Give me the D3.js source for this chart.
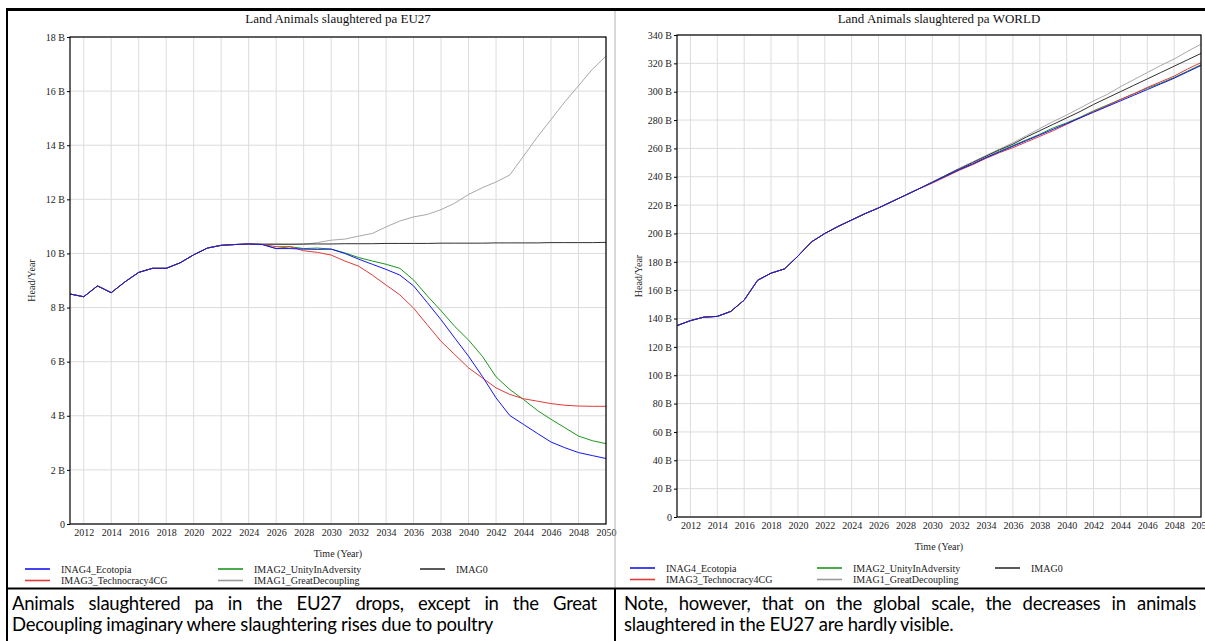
<!DOCTYPE html>
<html><head><meta charset="utf-8">
<script src="https://cdn.jsdelivr.net/npm/d3@7"></script>
<style>
body{margin:0;background:#fff;}
#wrap{position:relative;width:1205px;height:641px;overflow:hidden;background:#fff;}
svg{position:absolute;left:0;top:0;}
.cap{position:absolute;font-family:Lato,"Noto Sans",sans-serif;font-size:18.5px;line-height:21px;color:#000;white-space:nowrap;letter-spacing:-0.25px;}
.j{text-align:justify;text-align-last:justify;white-space:normal;}
</style></head>
<body><div id="wrap"></div>
<script>
// ---------- DATA ----------
const years = [2011,2012,2013,2014,2015,2016,2017,2018,2019,2020,2021,2022,2023,2024,2025,2026,2027,2028,2029,2030,
               2031,2032,2033,2034,2035,2036,2037,2038,2039,2040,2041,2042,2043,2044,2045,2046,2047,2048,2049,2050];
const xTickYears = [2012,2014,2016,2018,2020,2022,2024,2026,2028,2030,2032,2034,2036,2038,2040,2042,2044,2046,2048,2050];
const seriesNames = ["INAG4_Ecotopia","IMAG3_Technocracy4CG","IMAG2_UnityInAdversity","IMAG1_GreatDecoupling","IMAG0"];
const seriesColors = ["#1515f0","#e03a3a","#1d961d","#a8a8a8","#303030"];

// EU27 (billion head / year)
const euEcotopia   = [8.5,8.4,8.8,8.55,8.95,9.3,9.45,9.45,9.65,9.95,10.2,10.3,10.33,10.35,10.33,10.18,10.18,10.16,10.15,10.16,
                      10.0,9.79,9.6,9.41,9.2,8.8,8.18,7.55,6.87,6.2,5.46,4.66,4.01,3.68,3.35,3.03,2.82,2.64,2.53,2.42];
const euTechnocracy= [8.5,8.4,8.8,8.55,8.95,9.3,9.45,9.45,9.65,9.95,10.2,10.3,10.33,10.35,10.33,10.25,10.25,10.1,10.04,9.94,
                      9.72,9.53,9.2,8.83,8.47,7.98,7.36,6.75,6.26,5.77,5.4,5.03,4.79,4.63,4.54,4.45,4.39,4.36,4.35,4.35];
const euUnity      = [8.5,8.4,8.8,8.55,8.95,9.3,9.45,9.45,9.65,9.95,10.2,10.3,10.33,10.35,10.33,10.18,10.25,10.18,10.2,10.16,
                      10.02,9.85,9.72,9.6,9.45,9.02,8.43,7.88,7.3,6.8,6.2,5.44,4.97,4.6,4.2,3.87,3.56,3.25,3.08,2.97];
const euDecoupling = [8.5,8.4,8.8,8.55,8.95,9.3,9.45,9.45,9.65,9.95,10.2,10.3,10.33,10.35,10.35,10.35,10.34,10.33,10.4,10.49,
                      10.53,10.64,10.74,10.98,11.2,11.35,11.44,11.62,11.86,12.18,12.43,12.64,12.9,13.6,14.3,14.95,15.6,16.2,16.8,17.3];
const euImag0      = [8.5,8.4,8.8,8.55,8.95,9.3,9.45,9.45,9.65,9.95,10.2,10.3,10.33,10.35,10.34,10.34,10.34,10.35,10.35,10.35,
                      10.36,10.36,10.36,10.37,10.37,10.37,10.37,10.38,10.38,10.38,10.38,10.39,10.39,10.39,10.39,10.4,10.4,10.4,10.4,10.41];

// WORLD (billion head / year)
const wEcotopia    = [135,138.5,141,141.5,145,153,167,172,175,184,194,200,205,209.5,214,218,222.5,227,231.5,236,
                      240.5,245,249,253.5,257.5,261.5,265.5,269.5,273.5,277.5,281.5,285.5,289.5,293.5,297.5,301.5,305.5,309.5,314,318.5];
const wTechnocracy = [135,138.5,141,141.5,145,153,167,172,175,184,194,200,205,209.5,214,218,222.5,227,231.5,235.5,
                      240,244.5,248.5,253,257,260.5,264.5,268.5,272.5,277,281.5,286,290,294.5,298.5,303,307,311,316,320.5];
const wUnity       = [135,138.5,141,141.5,145,153,167,172,175,184,194,200,205,209.5,214,218,222.5,227,231.5,236,
                      240.5,245,249,253.5,258,262,266,270,274.5,278,282,286.5,290.5,294.5,298.5,302.5,306,310,314.5,319];
const wDecoupling  = [135,138.5,141,141.5,145,153,167,172,175,184,194,200,205,209.5,214,218,222.5,227,231.5,236.5,
                      241,246,250.5,255,259.5,264,269,274,279,283.5,288.5,293.5,298,303.5,308.5,313.5,318.5,323,328.5,333.5];
const wImag0       = [135,138.5,141,141.5,145,153,167,172,175,184,194,200,205,209.5,214,218,222.5,227,231.5,236,
                      241,245.5,250,254.5,259,263,268,272.5,277,281.5,286,291,295.5,300,304.5,309,313.5,318,322.5,327];

const euTicks = [0,2,4,6,8,10,12,14,16,18];
const worldTicks = [0,20,40,60,80,100,120,140,160,180,200,220,240,260,280,300,320,340];

const euTitle = "Land Animals slaughtered pa EU27";
const worldTitle = "Land Animals slaughtered pa WORLD";
const yLabel = "Head/Year";
const xLabel = "Time (Year)";
const captionLeft = ["Animals slaughtered pa in the EU27 drops, except in the Great","Decoupling imaginary where slaughtering rises due to poultry"];
const captionRight = ["Note, however, that on the global scale, the decreases in animals","slaughtered in the EU27 are hardly visible."];

// ---------- DRAW ----------
const W = 1205, H = 641;
const wrap = d3.select("#wrap");
const svg = wrap.append("svg").attr("width", W).attr("height", H);
const serif = "'Liberation Serif','Times New Roman',serif";

function chart(cfg) {
  const x = d3.scaleLinear().domain([2011, 2050]).range([cfg.left, cfg.right]);
  const y = d3.scaleLinear().domain([0, cfg.yMax]).range([cfg.bottom, cfg.top]);
  const g = svg.append("g");

  // grid
  g.append("g").selectAll("line.v").data(xTickYears).join("line")
    .attr("x1", d => x(d)).attr("x2", d => x(d)).attr("y1", cfg.top).attr("y2", cfg.bottom)
    .attr("stroke", "#dcdcdc").attr("stroke-width", 1);
  g.append("g").selectAll("line.h").data(cfg.ticks).join("line")
    .attr("x1", cfg.left).attr("x2", cfg.right).attr("y1", d => y(d)).attr("y2", d => y(d))
    .attr("stroke", "#dcdcdc").attr("stroke-width", 1);

  // axes
  const ya = g.append("g").attr("transform", `translate(${cfg.left},0)`)
    .call(d3.axisLeft(y).tickValues(cfg.ticks).tickSize(3).tickPadding(2)
      .tickFormat(d => d === 0 ? "0" : d + " B"));
  ya.select(".domain").remove();
  ya.selectAll("text").attr("font-family", serif).attr("font-size", 10).attr("fill", "#222");
  ya.selectAll("line").attr("stroke", "#000");

  const xa = g.append("g").attr("transform", `translate(0,${cfg.bottom})`)
    .call(d3.axisBottom(x).tickValues(xTickYears).tickSize(0).tickPadding(5).tickFormat(d3.format("d")));
  xa.select(".domain").remove();
  xa.selectAll("text").attr("font-family", serif).attr("font-size", 10).attr("fill", "#222");

  // lines
  const line = d3.line().x((d, i) => x(years[i])).y(d => y(d));
  const order = [3, 4, 2, 1, 0];
  order.forEach(k => {
    g.append("path").datum(cfg.data[k]).attr("d", line)
      .attr("fill", "none").attr("stroke", seriesColors[k]).attr("stroke-width", 1);
  });

  // frame
  g.append("rect").attr("x", cfg.left).attr("y", cfg.top)
    .attr("width", cfg.right - cfg.left).attr("height", cfg.bottom - cfg.top)
    .attr("fill", "none").attr("stroke", "#000").attr("stroke-width", 1.2);

  // title & labels
  g.append("text").attr("x", (cfg.left + cfg.right) / 2).attr("y", cfg.titleY)
    .attr("text-anchor", "middle").attr("font-family", serif).attr("font-size", 13).attr("fill", "#111")
    .text(cfg.title);
  g.append("text").attr("transform", `translate(${cfg.yLabelX},${(cfg.top + cfg.bottom) / 2}) rotate(-90)`)
    .attr("text-anchor", "middle").attr("font-family", serif).attr("font-size", 10).attr("fill", "#222")
    .text(yLabel);
  g.append("text").attr("x", (cfg.left + cfg.right) / 2).attr("y", cfg.xLabelY)
    .attr("text-anchor", "middle").attr("font-family", serif).attr("font-size", 10).attr("fill", "#222")
    .text(xLabel);

  // legend
  const pos = [[0, 0], [0, 1], [1, 0], [1, 1], [2, 0]];
  seriesNames.forEach((n, k) => {
    const cx = cfg.legendX[pos[k][0]], cy = cfg.legendY + pos[k][1] * 11.5;
    g.append("line").attr("x1", cx).attr("x2", cx + 25).attr("y1", cy).attr("y2", cy)
      .attr("stroke", seriesColors[k] === "#a8a8a8" ? "#999" : seriesColors[k]).attr("stroke-width", 1.6);
    g.append("text").attr("x", cx + 36).attr("y", cy + 3.5).attr("font-family", serif).attr("font-size", 10)
      .attr("fill", "#222").text(n);
  });
}

chart({left: 70, right: 606, top: 37, bottom: 524, yMax: 18, ticks: euTicks,
  data: [euEcotopia, euTechnocracy, euUnity, euDecoupling, euImag0],
  title: euTitle, titleY: 23, yLabelX: 35, xLabelY: 557, legendX: [25, 218, 420], legendY: 569});
chart({left: 677, right: 1201, top: 35, bottom: 517, yMax: 340, ticks: worldTicks,
  data: [wEcotopia, wTechnocracy, wUnity, wDecoupling, wImag0],
  title: worldTitle, titleY: 23, yLabelX: 642, xLabelY: 550, legendX: [630, 817, 995], legendY: 568});

// table borders
svg.append("line").attr("x1", 6).attr("x2", W).attr("y1", 9.5).attr("y2", 9.5).attr("stroke", "#000").attr("stroke-width", 3);
svg.append("line").attr("x1", 7).attr("x2", 7).attr("y1", 8).attr("y2", H).attr("stroke", "#000").attr("stroke-width", 2);
svg.append("line").attr("x1", 615).attr("x2", 615).attr("y1", 11).attr("y2", 588).attr("stroke", "#b0b0b0").attr("stroke-width", 1);
svg.append("line").attr("x1", 6).attr("x2", W).attr("y1", 588.5).attr("y2", 588.5).attr("stroke", "#000").attr("stroke-width", 2);
svg.append("line").attr("x1", 615).attr("x2", 615).attr("y1", 588).attr("y2", H).attr("stroke", "#000").attr("stroke-width", 2);

// captions
function caption(lines, left, width) {
  wrap.append("div").attr("class", "cap j").style("left", left + "px").style("top", "593px")
    .style("width", width + "px").text(lines[0]);
  wrap.append("div").attr("class", "cap").style("left", left + "px").style("top", "614px").text(lines[1]);
}
caption(captionLeft, 12, 585);
caption(captionRight, 624, 572);
</script>
</body></html>
